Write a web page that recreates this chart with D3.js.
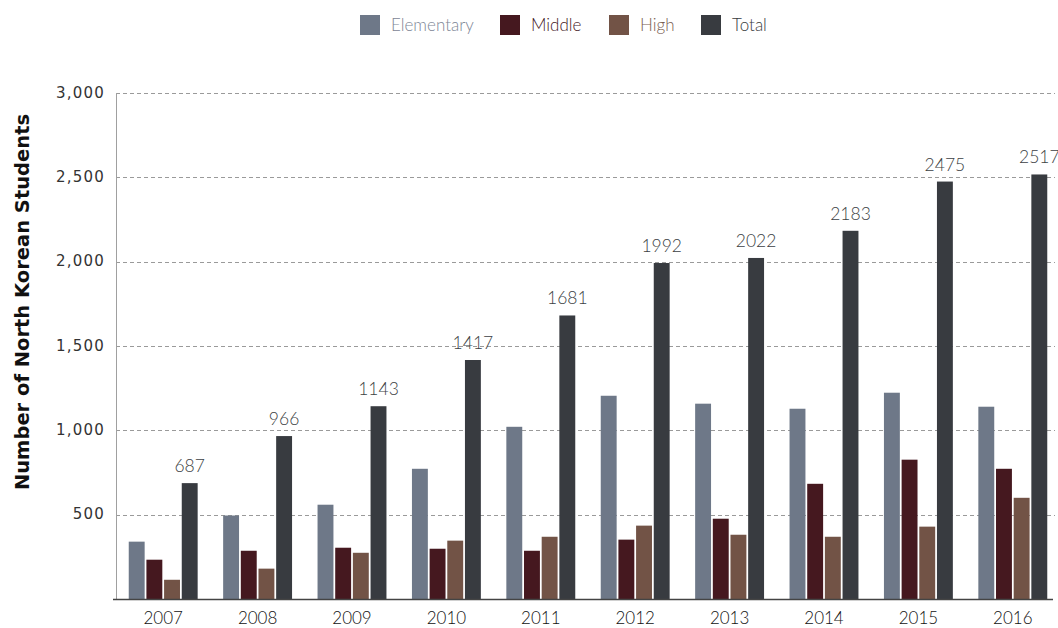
<!DOCTYPE html>
<html>
<head>
<meta charset="utf-8">
<script src="https://cdn.jsdelivr.net/npm/d3@7"></script>
<style>
  body { margin: 0; background: #fff; }
  svg { display: block; }
</style>
</head>
<body>
<svg id="chart" width="1058" height="628"></svg>
<script>
const years = ["2007","2008","2009","2010","2011","2012","2013","2014","2015","2016"];
const seriesNames = ["Elementary","Middle","High","Total"];
const elementary = [340, 495, 559, 772, 1021, 1205, 1158, 1128, 1223, 1140];
const middle = [233, 286, 304, 298, 286, 352, 476, 683, 826, 772];
const high = [114, 180, 274, 346, 369, 435, 381, 369, 429, 600];
const total = [687, 966, 1143, 1417, 1681, 1992, 2022, 2183, 2475, 2517];
const yTicks = [500, 1000, 1500, 2000, 2500, 3000];
const colors = ["#6e7888", "#45181f", "#725346", "#383b40"];
const legendTextColors = ["#7d8696", "#45181f", "#7a5e52", "#383b40"];

const svg = d3.select("#chart");
const mLeft = 116, mRight = 1060, mTop = 93, mBottom = 599;

const x0 = d3.scaleBand().domain(years).range([mLeft, mRight]).paddingInner(0.27).paddingOuter(0.135);
const x1 = d3.scaleBand().domain(seriesNames).range([0, x0.bandwidth()]).paddingInner(0.1).paddingOuter(0);
const y = d3.scaleLinear().domain([0, 3000]).range([mBottom, mTop]);
const color = d3.scaleOrdinal().domain(seriesNames).range(colors);

const data = years.map((yr, i) => ({
  year: yr,
  values: [elementary[i], middle[i], high[i], total[i]].map((v, j) => ({ key: seriesNames[j], value: v }))
}));

// gridlines
const grid = svg.append("g");
grid.selectAll("line").data(yTicks).join("line")
  .attr("x1", mLeft).attr("x2", 1055)
  .attr("y1", d => Math.round(y(d)) + 0.5).attr("y2", d => Math.round(y(d)) + 0.5)
  .attr("stroke", "#9a9a9a").attr("stroke-width", 1).attr("stroke-dasharray", "4,3");

// y axis line
svg.append("line").attr("x1", mLeft + 0.5).attr("x2", mLeft + 0.5).attr("y1", mTop).attr("y2", mBottom)
  .attr("stroke", "#a0a0a0").attr("stroke-width", 1);

// y tick labels
const yAxis = d3.axisLeft(y).tickValues(yTicks).tickSize(0).tickPadding(11).tickFormat(d3.format(","));
const yg = svg.append("g").attr("transform", `translate(${mLeft},0)`).call(yAxis);
yg.select(".domain").remove();
yg.selectAll("text").attr("font-family", "DejaVu Sans, sans-serif").attr("font-size", 15)
  .attr("fill", "#333").attr("letter-spacing", "1.2px").attr("dy", "0.28em");

// bars
const groups = svg.append("g").selectAll("g").data(data).join("g")
  .attr("transform", d => `translate(${x0(d.year)},0)`);
groups.selectAll("rect").data(d => d.values).join("rect")
  .attr("x", d => x1(d.key))
  .attr("width", x1.bandwidth())
  .attr("y", d => y(d.value))
  .attr("height", d => y(0) - y(d.value))
  .attr("fill", d => color(d.key));

// total labels
groups.append("text")
  .attr("x", x1("Total") + x1.bandwidth() / 2)
  .attr("y", d => y(d.values[3].value) - 11)
  .attr("text-anchor", "middle")
  .attr("font-family", "Lato, sans-serif").attr("font-weight", 300).attr("font-size", 17.5)
  .attr("fill", "#3c3f44")
  .text(d => d.values[3].value);

// x axis
const xAxis = d3.axisBottom(x0).tickSize(0).tickPadding(13);
const xg = svg.append("g").attr("transform", `translate(0,${mBottom})`).call(xAxis);
xg.select(".domain").remove();
xg.selectAll("text").attr("font-family", "Lato, sans-serif").attr("font-weight", 300)
  .attr("font-size", 17).attr("fill", "#111");
svg.append("line").attr("x1", 113).attr("x2", 1053).attr("y1", mBottom + 0.5).attr("y2", mBottom + 0.5)
  .attr("stroke", "#444").attr("stroke-width", 1.3);

// y axis title
svg.append("text")
  .attr("transform", `translate(29,302) rotate(-90)`)
  .attr("text-anchor", "middle")
  .attr("font-family", "DejaVu Sans, sans-serif").attr("font-weight", "bold").attr("font-size", 19.5)
  .attr("fill", "#111")
  .text("Number of North Korean Students");

// legend
const legendX = [360, 500, 609, 701];
const legend = svg.append("g").selectAll("g").data(seriesNames).join("g")
  .attr("transform", (d, i) => `translate(${legendX[i]},15)`);
legend.append("rect").attr("width", 20).attr("height", 20).attr("fill", d => color(d));
legend.append("text").attr("x", 31).attr("y", 15.5)
  .attr("font-family", "Lato, sans-serif").attr("font-weight", 300).attr("font-size", 17)
  .attr("fill", (d, i) => legendTextColors[i])
  .text(d => d);
</script>
</body>
</html>
